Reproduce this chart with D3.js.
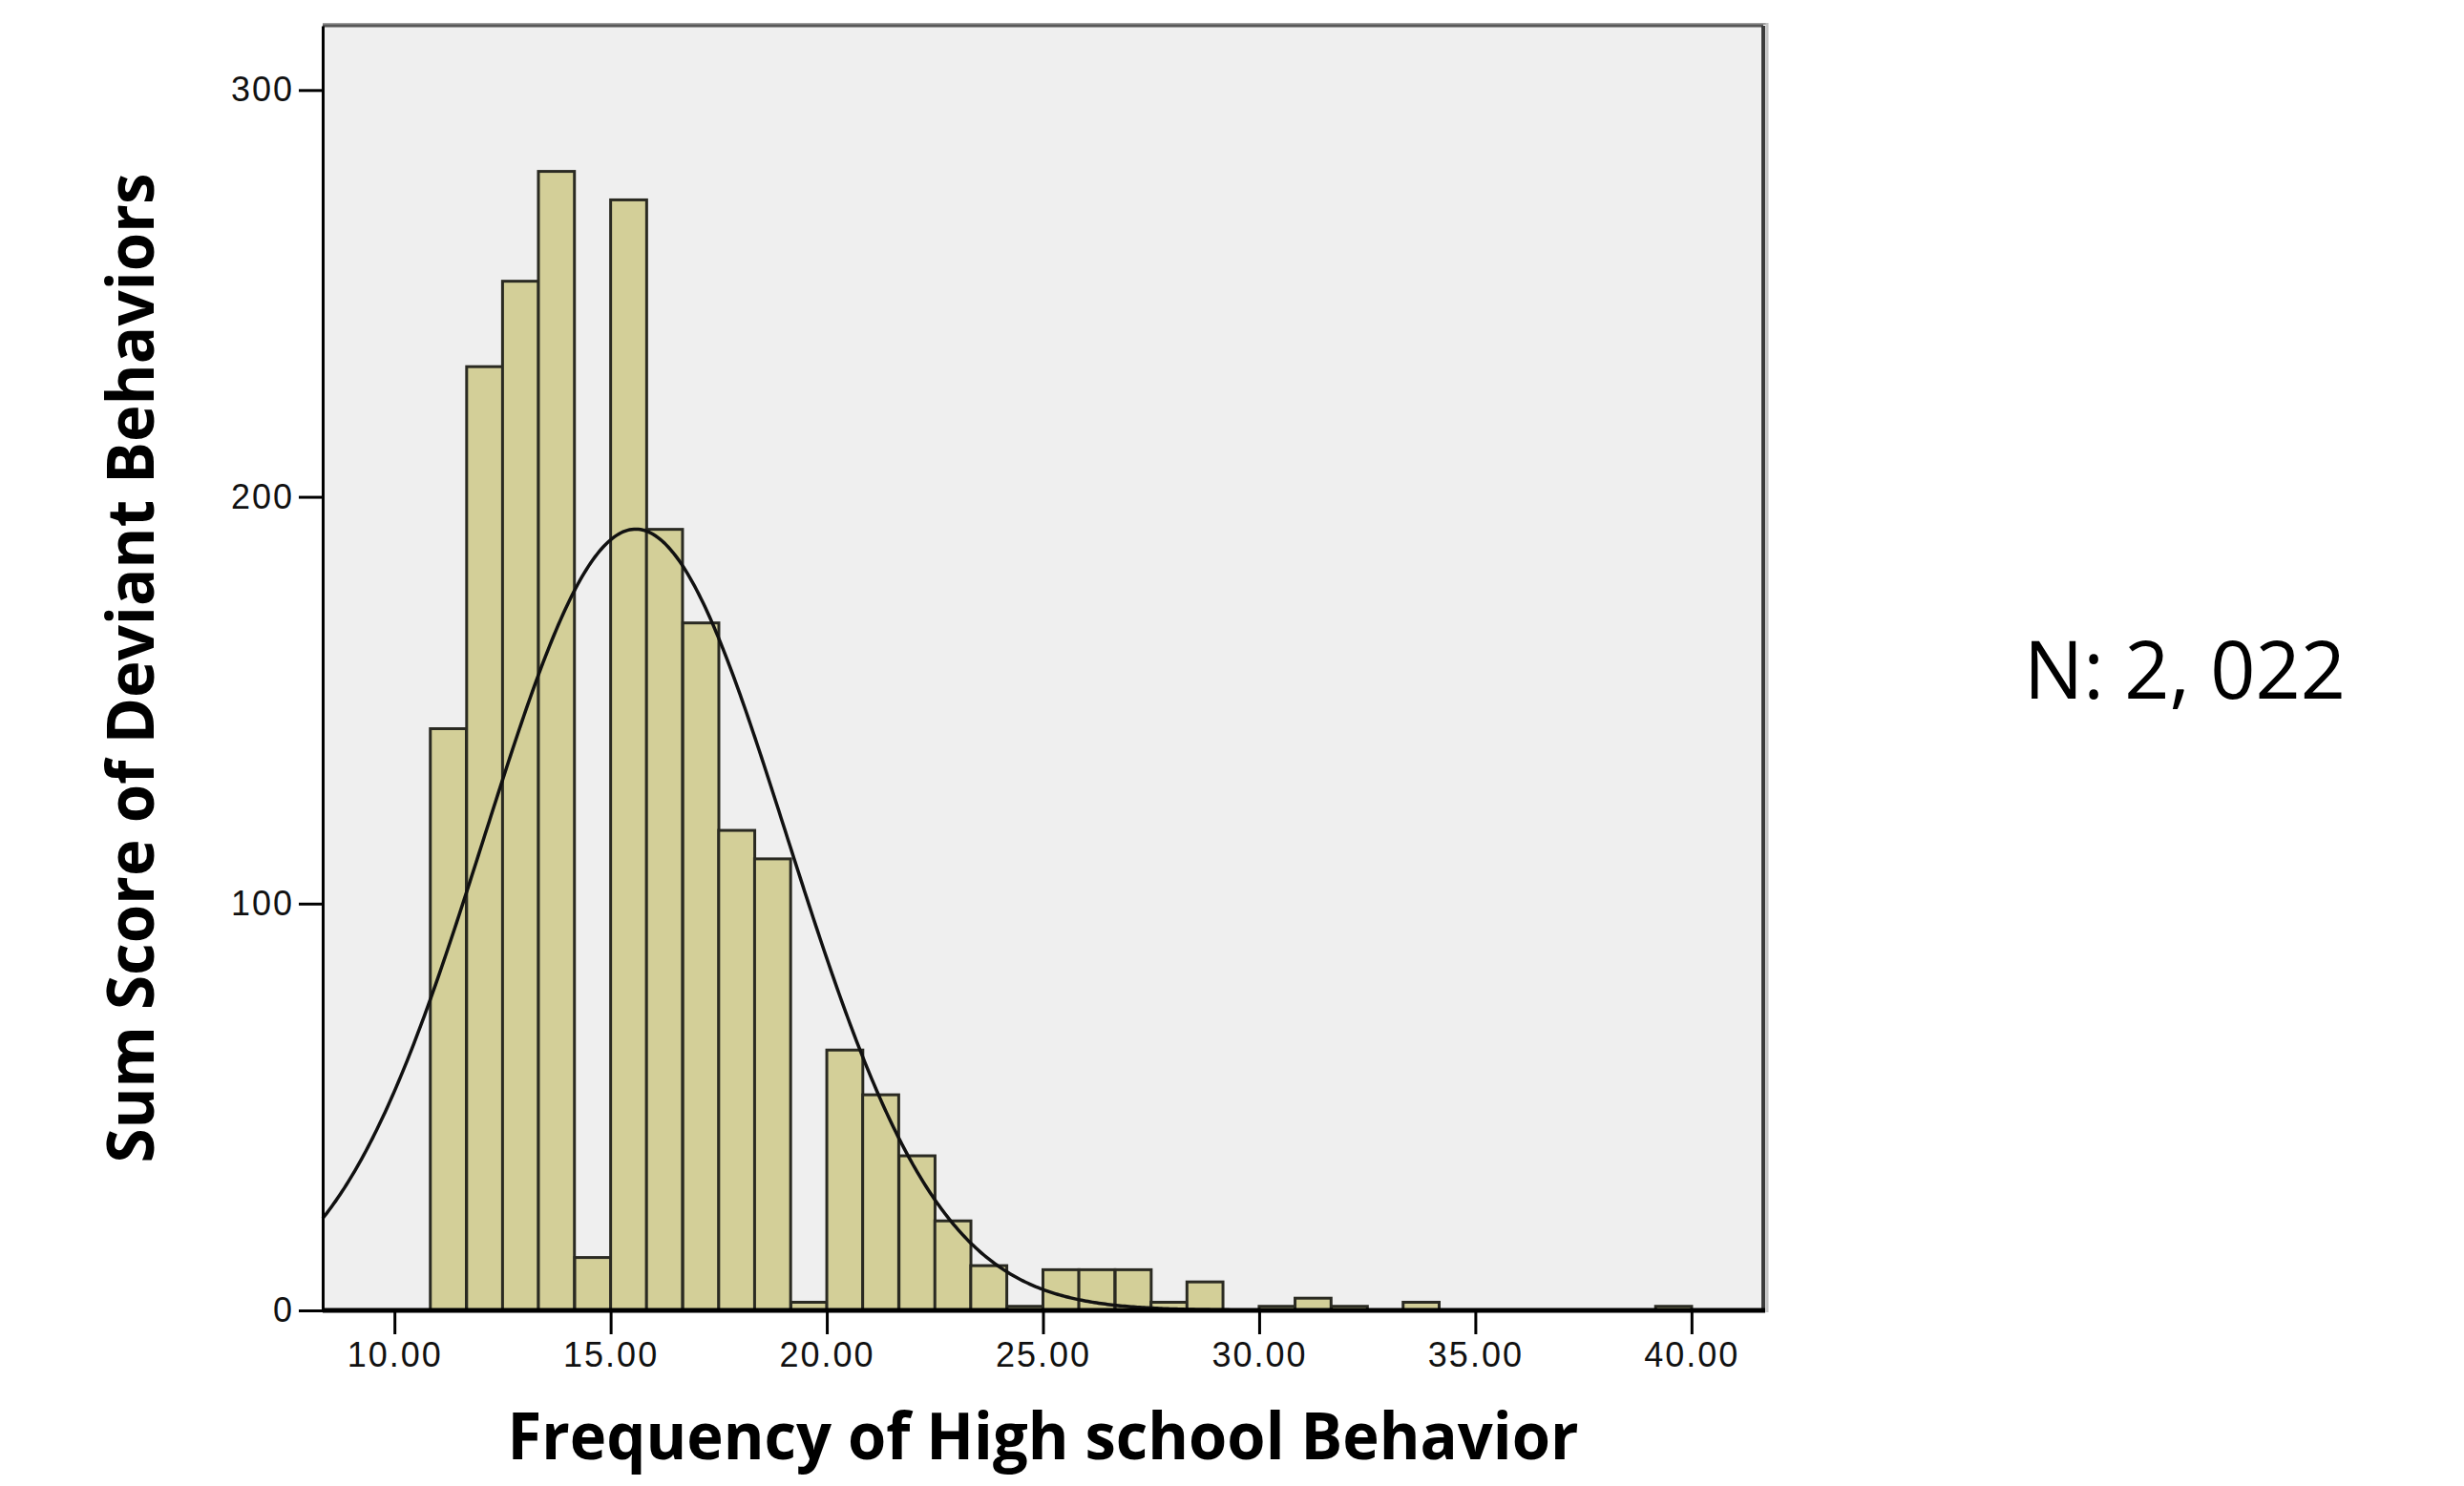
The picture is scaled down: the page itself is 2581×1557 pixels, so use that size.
<!DOCTYPE html>
<html lang="en">
<head>
  <meta charset="UTF-8">
  <title>Frequency of High school Behavior</title>
  <script src="https://d3js.org/d3.v7.min.js"></script>
  <style>
    body { margin: 0; background: #fff; }
    svg { display: block; }
    .tick-label { font-family: "Liberation Sans", Arial, sans-serif; font-size: 36px; letter-spacing: 2px; fill: #111; }
    .axis-title { font-family: "Open Sans", "Noto Sans", sans-serif; font-weight: bold; font-size: 68px; fill: #000; }
  </style>
</head>
<body>

<svg></svg>

<script>
// histogram bins (lower edge of each bin) and counts
const binStarts = [10.83, 11.67, 12.50, 13.33, 14.17, 15.00, 15.83, 16.67, 17.50, 18.33,
                   19.17, 20.00, 20.83, 21.67, 22.50, 23.33, 24.17, 25.00, 25.83, 26.67,
                   27.50, 28.33, 29.17, 30.00, 30.83, 31.67, 32.50, 33.33, 34.17, 35.00,
                   35.83, 36.67, 37.50, 38.33, 39.17];
const counts = [143, 232, 253, 280, 13, 273, 192, 169, 118, 111,
                2, 64, 53, 38, 22, 11, 1, 10, 10, 10,
                2, 7, 0, 1, 3, 1, 0, 2, 0, 0,
                0, 0, 0, 0, 1];
const binWidth = 0.8333;

// normal curve parameters
const nTotal = 2022;
const mean = 15.58;
const sd = 3.5;

const xTicks = [10, 15, 20, 25, 30, 35, 40];
const yTicks = [0, 100, 200, 300];

const xTitle = "Frequency of High school Behavior";
const yTitle = "Sum Score of Deviant Behaviors";
const nLabel = "N: 2, 022";

const width = 2581, height = 1557;
const plot = { left: 338, right: 1847, top: 27, bottom: 1373 };

const svg = d3.select("svg").attr("width", width).attr("height", height);

const x = d3.scaleLinear().domain([8.34, 41.66]).range([plot.left, plot.right]);
const y = d3.scaleLinear().domain([0, 315.8]).range([plot.bottom, plot.top]);

// plot background
svg.append("rect")
  .attr("x", plot.left).attr("y", plot.top)
  .attr("width", plot.right - plot.left).attr("height", plot.bottom - plot.top)
  .attr("fill", "#efefef");

// bars
const bins = binStarts.map((s, i) => ({ x0: s, x1: s + binWidth, n: counts[i] }))
  .filter(d => d.n > 0);

svg.append("g").selectAll("rect")
  .data(bins)
  .enter()
  .append("rect")
  .attr("x", d => x(d.x0))
  .attr("width", d => x(d.x1) - x(d.x0))
  .attr("y", d => y(d.n))
  .attr("height", d => y(0) - y(d.n))
  .attr("fill", "#d3cf98")
  .attr("stroke", "#2a2a22")
  .attr("stroke-width", 3);

// normal curve
const curve = d3.range(8.34, 41.66, 0.05).map(v => {
  const z = (v - mean) / sd;
  return [v, nTotal * binWidth * Math.exp(-0.5 * z * z) / (sd * Math.sqrt(2 * Math.PI))];
});

svg.append("path")
  .datum(curve)
  .attr("fill", "none")
  .attr("stroke", "#111")
  .attr("stroke-width", 3.5)
  .attr("d", d3.line().x(d => x(d[0])).y(d => y(d[1])));

// frame: top and right in grey, left and bottom in black
svg.append("line")
  .attr("x1", plot.left).attr("x2", plot.right + 5)
  .attr("y1", plot.top - 2).attr("y2", plot.top - 2)
  .attr("stroke", "#a0a0a0").attr("stroke-width", 2);
svg.append("line")
  .attr("x1", plot.left).attr("x2", plot.right)
  .attr("y1", plot.top).attr("y2", plot.top)
  .attr("stroke", "#575757").attr("stroke-width", 3);
svg.append("line")
  .attr("x1", plot.right + 4).attr("x2", plot.right + 4)
  .attr("y1", plot.top - 3).attr("y2", plot.bottom + 2)
  .attr("stroke", "#c4c4c4").attr("stroke-width", 3);
svg.append("line")
  .attr("x1", plot.right).attr("x2", plot.right)
  .attr("y1", plot.top).attr("y2", plot.bottom)
  .attr("stroke", "#3c3c3c").attr("stroke-width", 4);

// y axis
const yAxis = svg.append("g").attr("transform", `translate(${plot.left},0)`)
  .call(d3.axisLeft(y).tickValues(yTicks).tickSizeInner(25).tickSizeOuter(0).tickPadding(5).tickFormat(d3.format("d")));
yAxis.select(".domain").attr("stroke", "#000").attr("stroke-width", 3);
yAxis.selectAll(".tick line").attr("stroke", "#000").attr("stroke-width", 3);
yAxis.selectAll(".tick text").attr("class", "tick-label").attr("font-size", null).attr("font-family", null).attr("fill", null);

// x axis
const xAxis = svg.append("g").attr("transform", `translate(0,${plot.bottom})`)
  .call(d3.axisBottom(x).tickValues(xTicks).tickSizeInner(25).tickSizeOuter(0).tickPadding(8).tickFormat(d3.format(".2f")));
xAxis.select(".domain").attr("stroke", "#000").attr("stroke-width", 5)
  .attr("d", `M${plot.left},0H${plot.right + 2}`);
xAxis.selectAll(".tick line").attr("stroke", "#000").attr("stroke-width", 3);
xAxis.selectAll(".tick text").attr("class", "tick-label").attr("font-size", null).attr("font-family", null).attr("fill", null);

// axis titles
svg.append("text")
  .attr("class", "axis-title")
  .attr("x", (plot.left + plot.right) / 2)
  .attr("y", 1529)
  .attr("text-anchor", "middle")
  .attr("textLength", 1122)
  .attr("lengthAdjust", "spacingAndGlyphs")
  .text(xTitle);

svg.append("text")
  .attr("class", "axis-title")
  .attr("transform", `translate(161,${(plot.top + plot.bottom) / 2}) rotate(-90)`)
  .attr("text-anchor", "middle")
  .attr("textLength", 1037)
  .attr("lengthAdjust", "spacingAndGlyphs")
  .text(yTitle);

// sample size note
svg.append("text")
  .attr("x", 2120)
  .attr("y", 732)
  .attr("font-family", "Open Sans, Noto Sans, sans-serif")
  .attr("font-size", 84)
  .attr("textLength", 337)
  .attr("lengthAdjust", "spacingAndGlyphs")
  .text(nLabel);
</script>

</body>
</html>
